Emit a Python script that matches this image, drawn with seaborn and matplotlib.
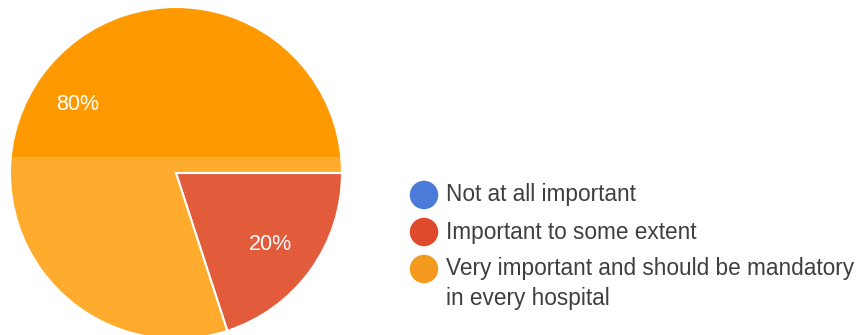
import matplotlib
matplotlib.use("Agg")
import matplotlib.pyplot as plt
import seaborn as sns
from matplotlib.patches import Rectangle

sns.set_theme(style="white")
plt.rcParams['font.family'] = ['Liberation Sans', 'DejaVu Sans']

categories = ["Not at all important",
              "Important to some extent",
              "Very important and should be mandatory\nin every hospital"]
values = [0, 20, 80]
pct_labels = ["", "20%", "80%"]
colors = ["#3366CC", "#DC3912", "#FF9900"]
legend_colors = ["#4A7BD9", "#DE4A2C", "#F49A1E"]

W, H = 861, 335
fig = plt.figure(figsize=(W / 100, H / 100), dpi=100)
ax = fig.add_axes([0, 0, 1, 1])

# pie: red slice drawn from 3 o'clock clockwise
wedges, texts = ax.pie(values[1:], colors=colors[1:], startangle=0, counterclock=False,
                       center=(176, H - 173), radius=166, frame=True,
                       wedgeprops=dict(edgecolor="white", linewidth=1.5))

# percentage labels
ax.text(270, H - 245, pct_labels[1], color="white", fontsize=15.5, ha="center", va="center")
ax.text(78, H - 104, pct_labels[2], color="white", fontsize=15.5, ha="center", va="center")

# lighter overlay on the lower band (scan effect)
ax.add_patch(Rectangle((0, 0), W, H - 157, facecolor="white", alpha=0.18,
                       edgecolor="none", zorder=5))

# legend
ys = [195, 232, 269]
for c, lab, y in zip(legend_colors, categories, ys):
    ax.scatter([424], [H - y], s=420, color=c, edgecolors="none", zorder=6)
    for i, line in enumerate(lab.split("\n")):
        ax.text(446, H - y - i * 30, line, fontsize=16.3, color="#3f3f3f",
                ha="left", va="center", zorder=6)

ax.set_xlim(0, W)
ax.set_ylim(0, H)
ax.set_aspect("auto")
ax.axis("off")

fig.savefig("out.png", dpi=100)
